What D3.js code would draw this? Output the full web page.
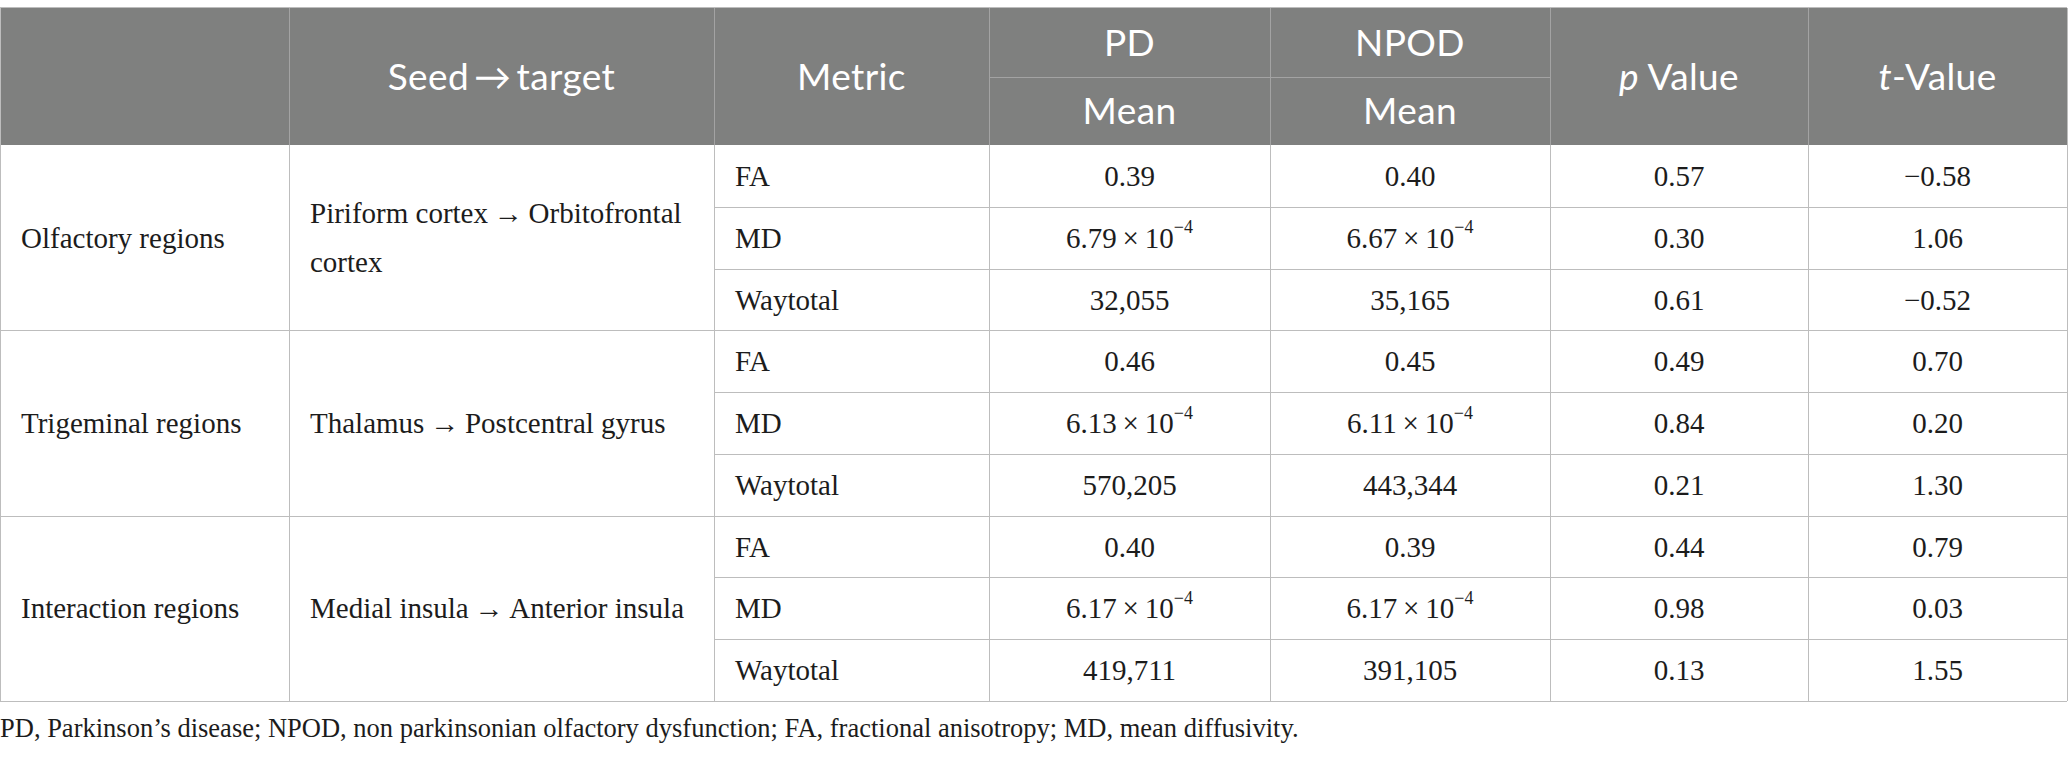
<!DOCTYPE html>
<html>
<head>
<meta charset="utf-8">
<script src="https://cdn.jsdelivr.net/npm/d3@7"></script>
<style>
  html, body { margin: 0; padding: 0; background: #fff; }
</style>
</head>
<body>
<div id="tablediv"></div>
<script>
// table content
var groups = ["Olfactory regions", "Trigeminal regions", "Interaction regions"];
var seedTarget = [
  ["Piriform cortex\u2009\u2192\u2009Orbitofrontal", "cortex"],
  ["Thalamus\u2009\u2192\u2009Postcentral gyrus"],
  ["Medial insula\u2009\u2192\u2009Anterior insula"]
];
var metrics = ["FA", "MD", "Waytotal"];
var pdMean   = [0.39, 6.79e-4, 32055, 0.46, 6.13e-4, 570205, 0.40, 6.17e-4, 419711];
var npodMean = [0.40, 6.67e-4, 35165, 0.45, 6.11e-4, 443344, 0.39, 6.17e-4, 391105];
var pValues  = [0.57, 0.30, 0.61, 0.49, 0.84, 0.21, 0.44, 0.98, 0.13];
var tValues  = [-0.58, 1.06, -0.52, 0.70, 0.20, 1.30, 0.79, 0.03, 1.55];
var footnote = "PD, Parkinson\u2019s disease; NPOD, non parkinsonian olfactory dysfunction; FA, fractional anisotropy; MD, mean diffusivity.";

// layout
var W = 2068, H = 757;
var colEdges = [0, 289, 714, 989, 1270, 1550, 1808, 2067];
var tableTop = 8, headMid = 77, headBottom = 145, tableBottom = 701;
var headFill = "#7f807f", headLine = "#a3a3a3", bodyLine = "#bdbdbd";
var serif = "'Liberation Serif', 'Times New Roman', serif";
var sans = "Lato, 'Noto Sans', sans-serif";

var svg = d3.select("#tablediv").append("svg")
    .attr("width", W)
    .attr("height", H);

// one row per metric line
var rows = d3.range(pdMean.length).map(function(i) {
  return {
    i: i,
    metric: metrics[i % 3],
    pd: pdMean[i],
    npod: npodMean[i],
    p: pValues[i],
    t: tValues[i]
  };
});

var y = d3.scaleBand()
    .domain(rows.map(function(d) { return d.i; }))
    .range([headBottom, tableBottom])
    .paddingInner(0);

var colX = function(c) { return colEdges[c]; };
var colMid = function(c) { return (colEdges[c] + colEdges[c + 1]) / 2; };

// header background
svg.append("rect")
    .attr("x", 0).attr("y", tableTop)
    .attr("width", colEdges[7]).attr("height", headBottom - tableTop)
    .attr("fill", headFill);

// header grid lines
var hg = svg.append("g").attr("stroke", headLine).attr("stroke-width", 1);
[1, 2, 3, 4, 5, 6].forEach(function(c) {
  hg.append("line")
    .attr("x1", colX(c) + 0.5).attr("x2", colX(c) + 0.5)
    .attr("y1", tableTop).attr("y2", headBottom);
});
hg.append("line")
    .attr("x1", colX(3)).attr("x2", colX(5))
    .attr("y1", headMid + 0.5).attr("y2", headMid + 0.5);

// header text
var ht = svg.append("g")
    .attr("font-family", sans)
    .attr("font-size", 37)
    .attr("letter-spacing", 0.4)
    .attr("fill", "#fff")
    .attr("text-anchor", "middle");

var headCenter = (tableTop + headBottom) / 2;
ht.append("text").attr("x", colMid(1)).attr("y", headCenter).attr("dy", "0.36em")
    .text("Seed\u2009\u2192\u2009target");
ht.append("text").attr("x", colMid(2)).attr("y", headCenter).attr("dy", "0.36em")
    .text("Metric");
ht.append("text").attr("x", colMid(3)).attr("y", (tableTop + headMid) / 2).attr("dy", "0.36em").text("PD");
ht.append("text").attr("x", colMid(4)).attr("y", (tableTop + headMid) / 2).attr("dy", "0.36em").text("NPOD");
ht.append("text").attr("x", colMid(3)).attr("y", (headMid + headBottom) / 2).attr("dy", "0.36em").text("Mean");
ht.append("text").attr("x", colMid(4)).attr("y", (headMid + headBottom) / 2).attr("dy", "0.36em").text("Mean");

var pt = ht.append("text").attr("x", colMid(5)).attr("y", headCenter).attr("dy", "0.36em");
pt.append("tspan").attr("font-style", "italic").text("p");
pt.append("tspan").text(" Value");
var tt = ht.append("text").attr("x", colMid(6)).attr("y", headCenter).attr("dy", "0.36em");
tt.append("tspan").attr("font-style", "italic").text("t");
tt.append("tspan").text("-Value");

// body grid lines
var bg = svg.append("g").attr("stroke", bodyLine).attr("stroke-width", 1).attr("fill", "none");

rows.forEach(function(d) {
  var yy = y(d.i) + y.bandwidth();
  var startCol = ((d.i + 1) % 3 === 0) ? 0 : 2;
  bg.append("line")
    .attr("x1", colX(startCol)).attr("x2", colEdges[7])
    .attr("y1", Math.round(yy) + 0.5).attr("y2", Math.round(yy) + 0.5);
});
[1, 2, 3, 4, 5, 6].forEach(function(c) {
  bg.append("line")
    .attr("x1", colX(c) + 0.5).attr("x2", colX(c) + 0.5)
    .attr("y1", headBottom).attr("y2", tableBottom);
});
// outer border
bg.append("line").attr("x1", 0).attr("x2", colEdges[7]).attr("y1", tableTop - 0.5).attr("y2", tableTop - 0.5);
bg.append("line").attr("x1", 0.5).attr("x2", 0.5).attr("y1", tableTop).attr("y2", tableBottom);
bg.append("line").attr("x1", colEdges[7] + 0.5).attr("x2", colEdges[7] + 0.5).attr("y1", tableTop).attr("y2", tableBottom);

// body text
var body = svg.append("g")
    .attr("font-family", serif)
    .attr("font-size", 29)
    .attr("fill", "#1c1c1c");

var fmtFixed = d3.format(".2f");
var fmtComma = d3.format(",");

function writeMean(sel, v, metric) {
  if (metric === "FA") { sel.text(fmtFixed(v)); return; }
  if (metric === "Waytotal") { sel.text(fmtComma(v)); return; }
  var m = v / 1e-4;
  sel.append("tspan").text(fmtFixed(m) + "\u2009\u00d7\u200910");
  sel.append("tspan").attr("font-size", 18).attr("dy", "-0.8em").text("\u22124");
}

rows.forEach(function(d) {
  var cy = y(d.i) + y.bandwidth() / 2;
  body.append("text").attr("x", colX(2) + 21).attr("y", cy).attr("dy", "0.35em").text(d.metric);
  writeMean(body.append("text").attr("x", colMid(3)).attr("y", cy).attr("dy", "0.35em").attr("text-anchor", "middle"), d.pd, d.metric);
  writeMean(body.append("text").attr("x", colMid(4)).attr("y", cy).attr("dy", "0.35em").attr("text-anchor", "middle"), d.npod, d.metric);
  body.append("text").attr("x", colMid(5)).attr("y", cy).attr("dy", "0.35em").attr("text-anchor", "middle").text(fmtFixed(d.p));
  body.append("text").attr("x", colMid(6)).attr("y", cy).attr("dy", "0.35em").attr("text-anchor", "middle").text(fmtFixed(d.t));
});

// group labels spanning three rows
groups.forEach(function(g, k) {
  var y0 = y(k * 3), y1 = y(k * 3 + 2) + y.bandwidth();
  var cy = (y0 + y1) / 2;
  body.append("text").attr("x", colX(0) + 21).attr("y", cy).attr("dy", "0.35em").text(g);
  var lines = seedTarget[k];
  var lh = 49;
  lines.forEach(function(line, j) {
    body.append("text")
      .attr("x", colX(1) + 21)
      .attr("y", cy + (j - (lines.length - 1) / 2) * lh)
      .attr("dy", "0.35em")
      .text(line);
  });
});

// footnote
svg.append("text")
    .attr("x", 0).attr("y", 737)
    .attr("font-family", serif)
    .attr("font-size", 26.5)
    .attr("fill", "#1c1c1c")
    .text(footnote);
</script>
</body>
</html>
